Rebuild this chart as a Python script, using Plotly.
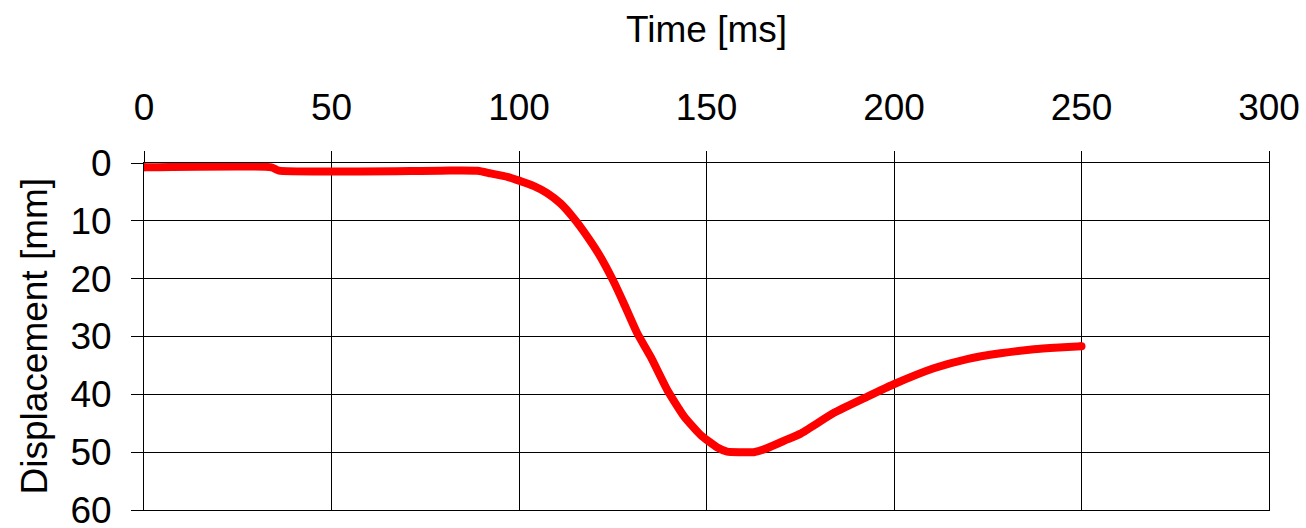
import plotly.graph_objects as go

time_ms = [0, 34, 36, 79, 89, 92.4, 96.9, 100, 104, 107.5, 111.1, 114.6, 118.2, 121.7,
           125, 127.9, 131.5, 135.1, 139.5, 144, 148.4, 152.9, 155.5, 159, 162.6,
           166.2, 171.5, 175.1, 184, 192.9, 199.8, 210.6, 219.5, 228.4, 237.3, 244, 250]
displacement_mm = [0.75, 0.75, 1.32, 1.32, 1.35, 1.8, 2.4, 3.05, 4.0, 5.2, 7.0, 9.55,
                   12.7, 16.2, 20.2, 24.2, 29.4, 33.5, 39.2, 43.8, 47.0, 49.2, 49.9,
                   50.0, 50.0, 49.3, 47.8, 46.8, 43.2, 40.4, 38.3, 35.5, 33.9, 32.9,
                   32.2, 31.9, 31.7]

x_ticks = [0, 50, 100, 150, 200, 250, 300]
y_ticks = [0, 10, 20, 30, 40, 50, 60]

FONT = "Liberation Sans, Arial, sans-serif"
FS = 37

fig = go.Figure()
fig.add_trace(go.Scatter(
    x=time_ms, y=displacement_mm, mode="lines",
    line=dict(color="#ff0000", width=8, shape="spline", smoothing=0.5),
    showlegend=False, hoverinfo="skip",
))
# round end caps
fig.add_trace(go.Scatter(
    x=[time_ms[0], time_ms[-1]], y=[displacement_mm[0], displacement_mm[-1]],
    mode="markers", marker=dict(color="#ff0000", size=8),
    showlegend=False, hoverinfo="skip",
))

fig.update_layout(
    width=1306, height=528,
    margin=dict(l=144, r=37, t=163, b=18),
    paper_bgcolor="white", plot_bgcolor="white",
    font=dict(family=FONT, size=FS, color="black"),
    xaxis=dict(
        side="top", range=[0, 300], tickvals=x_ticks,
        ticktext=[str(v) for v in x_ticks], automargin=False,
        showgrid=True, gridcolor="black", gridwidth=1,
        showline=True, linecolor="black", linewidth=1, mirror=True,
        ticks="outside", ticklen=11, tickcolor="black",
        ticklabelstandoff=16, zeroline=False, ticklabeloverflow="allow",
        tickfont=dict(size=FS, family=FONT, color="black"),
    ),
    yaxis=dict(
        range=[60.0001, 0], tickvals=y_ticks,
        ticktext=[str(v) for v in y_ticks], automargin=False,
        showgrid=True, gridcolor="black", gridwidth=1,
        showline=True, linecolor="black", linewidth=1, mirror=True,
        ticks="outside", ticklen=12, tickcolor="black",
        ticklabelstandoff=12, zeroline=False, ticklabeloverflow="allow",
        tickfont=dict(size=FS, family=FONT, color="black"),
    ),
    annotations=[
        dict(text="Time [ms]", xref="paper", yref="paper", x=0.5, y=1,
             xanchor="center", yanchor="middle", yshift=134, showarrow=False,
             font=dict(size=FS, family=FONT, color="black")),
        dict(text="Displacement [mm]", xref="paper", yref="paper", x=0, y=0.5,
             xanchor="center", yanchor="middle", xshift=-110, textangle=-90,
             showarrow=False, font=dict(size=FS, family=FONT, color="black")),
    ],
)

fig.write_html("out.html", config={"displayModeBar": False},
               post_script="document.body.style.margin='0';document.body.style.overflow='hidden';")
